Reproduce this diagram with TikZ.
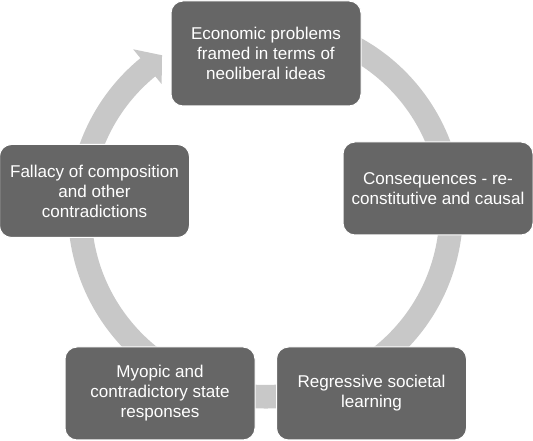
\documentclass[tikz,border=0pt]{standalone}
\usepackage{fontspec}
\setmainfont{Liberation Sans}
\definecolor{boxgray}{RGB}{102,102,102}
\definecolor{ringgray}{RGB}{200,200,200}
\begin{document}
\begin{tikzpicture}[x=0.75pt,y=0.75pt,
  stagebox/.style={rectangle, rounded corners=9pt, fill=boxgray, draw=white,
    line width=0.75pt, minimum width=142.5pt, minimum height=69.75pt,
    text=white, align=center, font=\fontsize{12.8}{15}\selectfont, inner sep=2pt}]
\useasboundingbox (0,0) rectangle (533,441);
% circular arrow
\fill[ringgray, shift={(265.5,230)}]
  (80:197.5) arc[start angle=80, end angle=-230.7, radius=197.5]
  -- (-230.7:209) -- (-236.4:187) -- (-230.7:164) -- (-230.7:174)
  arc[start angle=-230.7, end angle=80, radius=174] -- cycle;
% stages
\node[stagebox, minimum height=78.75pt] (top) at (266,387.5)
  {Economic problems\\framed in terms of\\neoliberal ideas};
\node[stagebox] (right) at (438,252.5)
  {Consequences - re-\\constitutive and causal};
\node[stagebox] (br) at (371.5,47.5)
  {Regressive societal\\learning};
\node[stagebox] (bl) at (160,47.5)
  {Myopic and\\contradictory state\\responses};
\node[stagebox] (left) at (94.5,250)
  {Fallacy of composition\\and other\\contradictions};
\end{tikzpicture}
\end{document}
